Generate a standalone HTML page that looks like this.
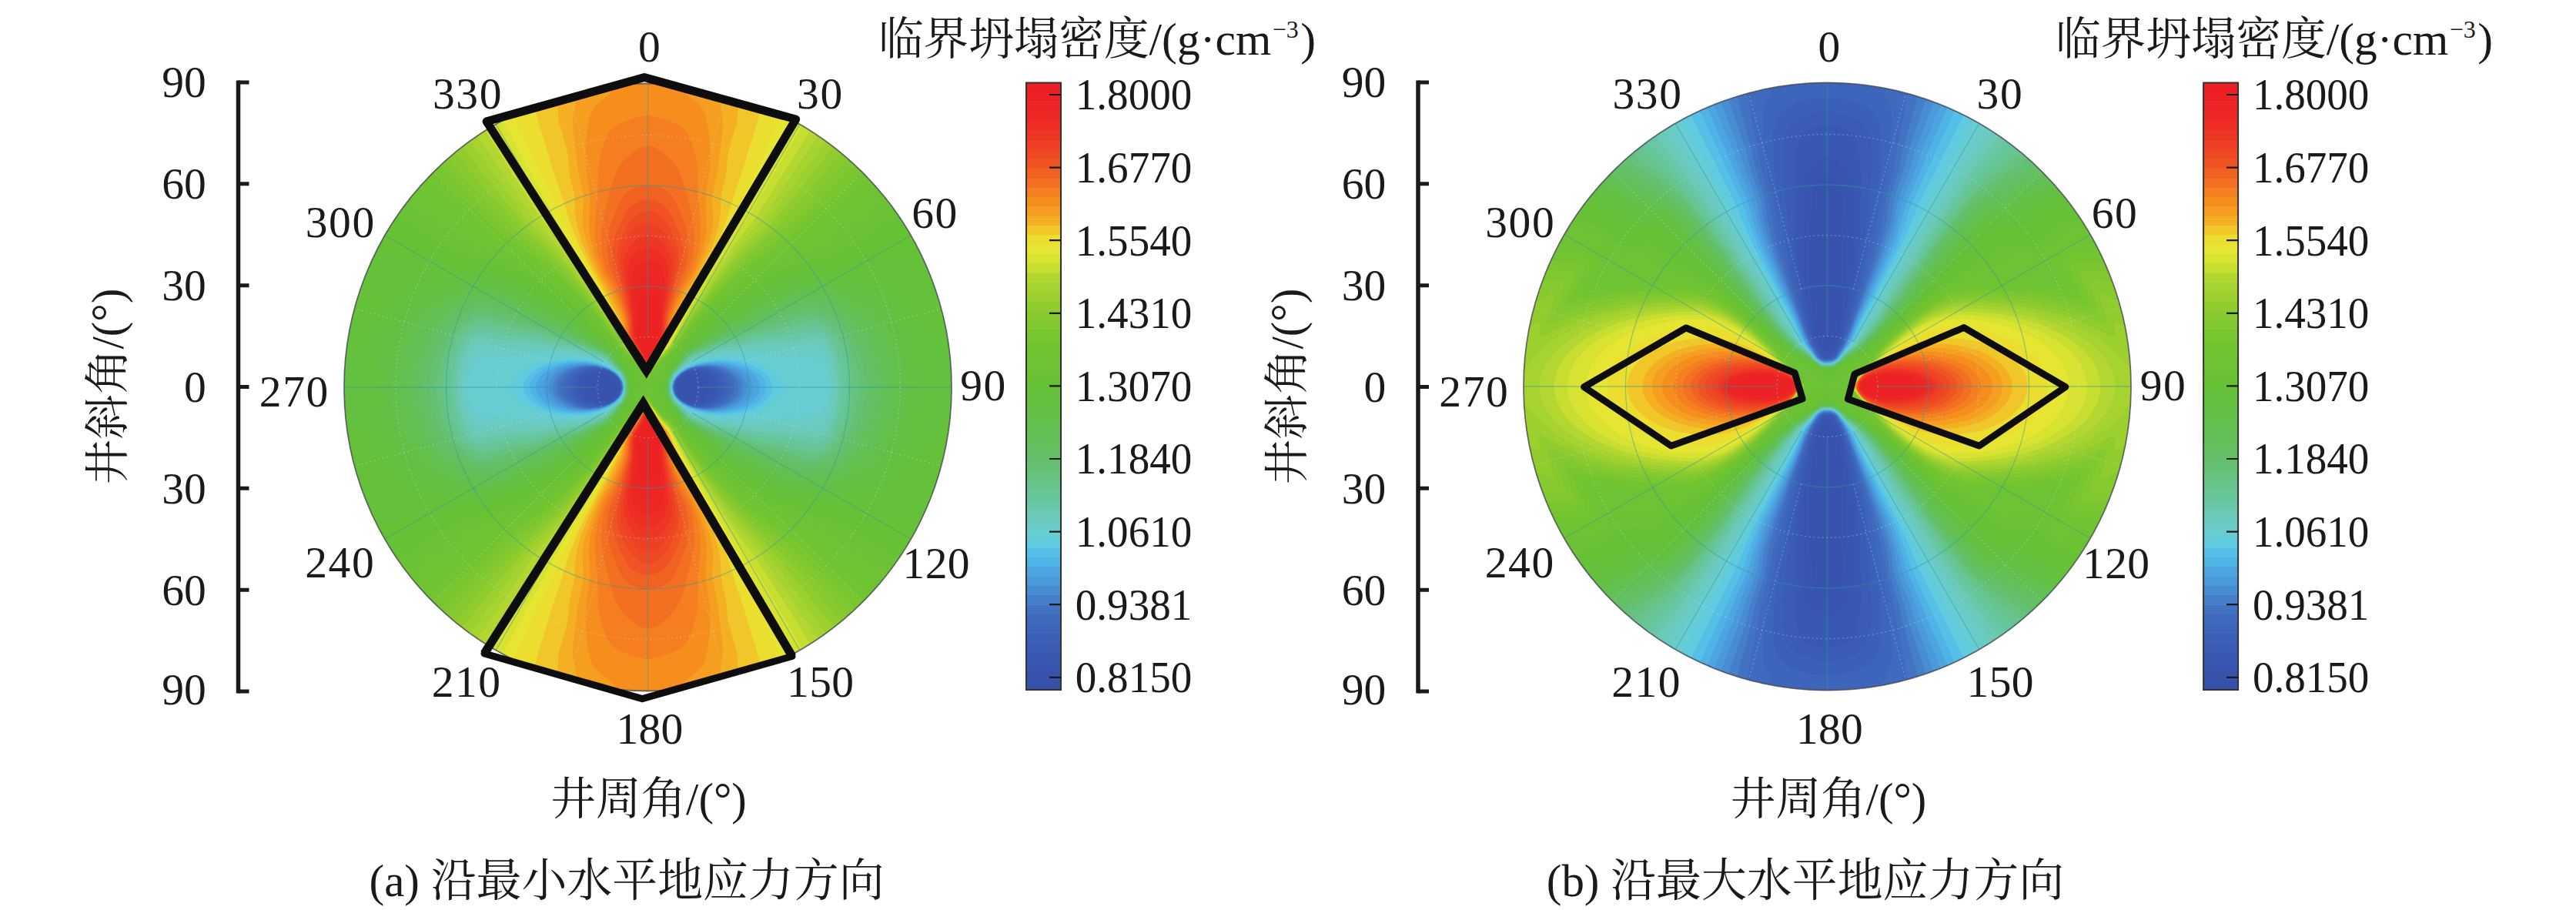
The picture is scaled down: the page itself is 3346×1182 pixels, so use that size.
<!DOCTYPE html>
<html lang="zh"><head><meta charset="utf-8"><title>figure</title>
<style>html,body{margin:0;padding:0;background:#fff;overflow:hidden}svg{display:block}</style></head>
<body>
<svg width="3346" height="1182" viewBox="0 0 3346 1182">
<defs><clipPath id="disc"><circle cx="841.5" cy="503" r="394.5"/></clipPath>
<g id="qa"><rect x="-4.5" y="-4" width="404" height="404" fill="#3753ac"/><path fill="#3855af" d="M-4.5-4l42.5 0-0.5 4 1 5 2 4 2 2.5 3.5 2.5 4.5 2 4 1 4 0.5 5-0.5 3-1 4-2 4-3 2-3 1.5-4 1-4-1-4 321.5 0 0 403-404 0 0-403z"/><path fill="#3958b2" d="M-4.5-4l41 0-0.5 4 0.5 5 2 4.5 3.5 4.5 4.5 3 4.5 2 5.5 1.5 6 0.5 5-0.5 5-1.5 4-2 4-3.5 3-3.5 2-5 1-4-0.5-5 313.5 0 0 403-404 0 0-403z"/><path fill="#3a5cb5" d="M-4.5-4l40 0-0.5 6 1.5 5 2 4 3.5 4 4.5 3 6 3 5 1.5 7 0.5 6-0.5 5.5-1.5 4.5-2 5-4 3.5-4 2-5 1-5-0.5-5 308 0 0 403-404 0 0-403z"/><path fill="#3b60b8" d="M-4.5-4l39.5 0-0.5 5 1 5 3 5.5 4 4.5 4.5 3 6 3 8 2 5.5 0.5 6-0.5 7.5-2 5.5-2.5 4.5-3.5 3-4 3-6 1-5-0.5-5 303 0 0 403-404 0 0-403z"/><path fill="#3d65bb" d="M-4.5-4l39 0-0.5 6 1.5 5 3 5.5 4 4 5 3.5 7 3 8 2 6 0.5 7-0.5 7-2 6-2.5 5-3.5 4.5-5 2.5-5 1.5-5-0.5-6 298 0 0 403-404 0 0-403z"/><path fill="#3f6abe" d="M-4.5-4l38.5 0 0 6 0.5 3 1 3 3 5 4 4 6.5 4 7 3 6.5 1.5 8 0.5 7-0.5 7.5-1.5 7.5-3 6-4 4.5-5 2.5-5 1.5-5-0.5-6 293 0 0 403-404 0 0-403z"/><path fill="#4273c3" d="M-4.5-4l38.5 0-0.5 3 0 3 1 5 3 5 5 5.5 6 3.5 7 3.5 8 1.5 9 1 8-0.5 8-2 7-2.5 7-4 5-5 3.5-5 1-3 0.5-3-0.5-6 287.5 0 0 403-404 0 0-403z"/><path fill="#457fca" d="M-4.5-4l38 0-0.5 6 2 6 3 5 5 5 7.5 4.5 7 3 8 1.5 9 0.5 10-0.5 8-1.5 8.5-3.5 6.5-4 5.5-5 3.5-5 1-3 0.5-3-0.5-6 282 0 0 403-404 0 0-403z"/><path fill="#488dd3" d="M-4.5-4l37.5 0 0 6 1.5 6 3 5 5 5 7 4.5 8 3 9 2 11 1 10-0.5 9-2 8-3 7-4 6-5 2.5-3 1.5-3 1-3 0.5-3 0-6 276.5 0 0 403-404 0 0-403z"/><path fill="#4a99d9" d="M-4.5-4l37.5 0-0.5 3 0 3 1.5 6 3 5 5.5 5.5 8 5 8 3 11 2.5 10 0.5 11-0.5 9.5-2 8.5-3 8-4 5.5-5 2.5-3 2-3 1.5-4 0.5-3 0.5-3-0.5-3 271 0 0 403-404 0 0-403z"/><path fill="#4ca5e0" d="M-4.5-4l37 0-0.5 3 0 3 1 4 1 3 2 3 2.5 3 6 5 8 4.5 8 3 10 2 12 1 11-0.5 11-2 10-3.5 9-4.5 6.5-5 2.5-3 2-3 1-3 1-3 0-3-0.5-4 263.5 0 0 403-404 0 0-403z"/><path fill="#4fb3e6" d="M-4.5-4l36.5 0-0.5 3 0.5 4 1 4 1.5 3 2 3 2.5 3 2.5 2.5 4 3 8 4 11 4 11 1.5 11 1 12-1 12-2 12-4 8.5-4 4.5-3 3-3 2.5-3 2-3 1.5-3 1-4 0-3-0.5-3 254.5 0 0 403-404 0 0-403z"/><path fill="#55c0e7" d="M-4.5-4l36.5 0-0.5 3 0 4 1 3 1.5 4 2 3 2.5 3 4 4 4 2.5 5 3 5 2 9 3 12 2 14 1 13-1 13-2.5 11-3.5 9.5-4.5 4-3 3.5-3 3-3 2-3 2-4 0.5-3 0.5-4-0.5-3 246.5 0 0 403-404 0 0-403z"/><path fill="#60cadf" d="M-4.5-4l36 0-0.5 4 0.5 4 1 4 2 4 2.5 3 3.5 4 8 5.5 10 5 11 3 12 2 13 1 14-1 13-2 13-4 9.5-4.5 4.5-3 3.5-3 3-3 3-4 2-4 1-3 0.5-4-0.5-4 238.5 0 0 403-404 0 0-403z"/><path fill="#68cdd1" d="M-4.5-4l35.5 0-0.5 4 0.5 4 1 4 2.5 4.5 2 3.5 3 3 9 6.5 9 5 12 4 17 3 11 0.5 16-0.5 14-2 13-4 10-4 7.5-4.5 8.5-6 3-3 5-7.5 2-2 3-1.5 8.5-2 1.5-1-1.5-1-10.5-3 222 0 0 403-404 0 0-403z"/><path fill="#6acbc4" d="M-4.5-4l35 0 0 6 0.5 4 2 5 3.5 6 5 4.5 10 8 5 3 5 2.5 19 4.5 12 2.5 46 1 19-0.5 27-3 27-0.5 6-0.5 4-1.5 3-1.5 3-3.5 2-3.5 2-5 1.5-6.5 1-7 0.5-7 0-7 165 0 0 403-404 0 0-403z"/><path fill="#6bc9b6" d="M-4.5-4l34.5 0 0 6 0.5 4 4 10 1.5 2 15.5 14 4 3 6 3 9 3 19 5 8 1 17 1.5 17 2 10 1 16 0.5 21-0.5 8 0.5 8 1 17 2.5 6 0.5 3 0 2-0.5 2.5-1.5 2.5-2.5 4-5.5 4-8.5 3-9 2-9.5 1-12 0-11 158 0 0 403-404 0 0-403z"/><path fill="#69c7a7" d="M-4.5-4l34 0 0 7 0.5 3 4 11 1.5 2 19 17.5 6.5 3.5 8.5 3 19 6 10 2 18 2 19 3.5 11 1.5 11 1 20 0.5 8 0.5 8 1.5 17 3.5 7 1 3 0 3-1 2.5-1 2.5-2 5-6 3-5 2.5-5 4-11 2.5-11.5 1.5-13.5 0.5-14 152 0 0 403-404 0 0-403z"/><path fill="#67c699" d="M-4.5-4l33.5 0 0.5 10 3.5 11 1.5 2 7.5 7 8.5 9 3 2.5 6 3.5 8 3 19 7 7 2 22 4 24 5 14 2.5 30 2.5 25 5 8 1 4 0 4-1.5 4-2 3-2 5-5.5 5.5-10 5-13 3.5-13 2-15 0.5-15 146.5 0 0 403-404 0 0-403z"/><path fill="#66c48c" d="M-4.5-4l33 0 0.5 11 2.5 6 1 4 1 2 8.5 8 7.5 8.5 3 2.5 6 4 7 3 28 10 22 5.5 26 7 12 2 27 3.5 25 6 9 1 4 0 5-1.5 5-2.5 4-2.5 4-3.5 3-3 3-4.5 3-5.5 6-13 2.5-8 2-8 1-7 1-9 0.5-16 141 0 0 403-404 0 0-403z"/><path fill="#65c37f" d="M-4.5-4l32.5 0 0.5 11 4.5 12 8 8 7.5 8.5 3 3 6 4 7 3.5 30 12 21 5.5 26 8 12 3 24 3.5 27 7.5 5 1 4 0.5 5-0.5 5-1.5 6-3 5-3 4.5-4 4-4 3-4 3.5-6 4.5-8 3-7 3.5-9 2-8 1.5-7 1.5-10 0.5-8 0-8 133.5 0 0 403-404 0 0-403z"/><path fill="#64c173" d="M-4.5-4l32 0 0 11 5 12 7.5 8 7.5 9 3 3 6 4.5 8 4 30 12.5 46 15.5 13 3.5 24 5 27 8.5 4 1 4 0 5-0.5 6-1.5 6-3 6-3.5 6-5 5.5-5 4-5 5-7 4-7 3.5-7 3.5-9 3-9 2-8 1.5-11 1-8 0-8 125 0 0 403-404 0 0-403z"/><path fill="#64c068" d="M-4.5-4l31.5 0 0 11 0.5 2 4 10 8 8 10 12 6 5 8 4.5 32 14 43 16 14 4.5 24 6.5 25 8.5 5 1.5 5 0 6-0.5 6-1.5 7-3 7-4 7-5 6.5-5.5 5.5-6 4.5-6 5-8 4.5-8 4-10 3.5-10 2.5-9 2-11 1-8 0-8 116 0 0 403-404 0 0-403z"/><path fill="#63c061" d="M-4.5-4l31 0 0 4 0 5 0 3 5 11.5 7 7.5 7 9 4 4.5 6 4.5 8 4.5 33 16 42 17.5 13 4.5 24 7 23 8.5 7 2 6 0.5 7-0.5 7-2 8-3.5 9-4.5 6-4 6-5 6-6 6-7 6-9 5-9 5-10 3.5-10 3-10 3-13 1-8 0-8 106.5 0 0 403-404 0 0-403z"/><path fill="#63c059" d="M-4.5-4l30.5 0 0 4-0.5 5 0.5 3 4 10 1.5 2 6.5 7 7.5 10 3 3.5 6 5 8 5 35 18 41 18.5 57 21 9 2 8 1 7-0.5 8-2 11-4 9-4.5 6-4 7-5.5 7-7.5 6-7 6.5-9 6-10 4.5-9 4-10 3-10 3.5-15 1.5-9 0-8 97 0 0 403-404 0 0-403z"/><path fill="#62c052" d="M-4.5-4l29.5 0 0.5 12 4 10 1.5 2 6 7 7.5 10.5 3 3.5 5 4.5 6 4 15.5 8.5 21.5 12.5 15 8 25 12 50 20 8 3 6 1.5 6 1 7 0.5 9-0.5 9-2 10-3 9-4 8-5 8-6 8.5-8 8-9 7-9 5.5-9 4.5-8 3.5-9 3.5-12 4.5-19 1.5-9 0-8 87.5 0 0 403-404 0 0-403z"/><path fill="#62c04b" d="M-4.5-4l29 0 0.5 12 1 3 3 7 2 3 6 7 6.5 9.5 3.5 4.5 4.5 4 6 4.5 16.5 9.5 17.5 11.5 10 6 21 11 16 8 47 20 8 3 6 1.5 7 1 7 0.5 10-0.5 11-2 8-2 8-3.5 12-7 11-7.5 8.5-7 8-8 7-9 6.5-10 4.5-8 3.5-8 3.5-12 6-25 1.5-9 0-8 77 0 0 403-404 0 0-403z"/><path fill="#63c045" d="M-4.5-4l28.5 0 0 9 0 3 1 3 3.5 7 1.5 3 6 7 7 11 3.5 4 5 4.5 5 4 15.5 9.5 21.5 15.5 11 7 39 21 41 18 8 3 7 1.5 9 1.5 9 0 11 0 8-1 8-2.5 9-3.5 19-8.5 8-4.5 9-7 8.5-8.5 7.5-9 9.5-14 5-8 3.5-8 4.5-15 5.5-23 2-11 0-9 64 0 0 403-404 0 0-403z"/><path fill="#64c13f" d="M-4.5-4l27.5 0 0 10 2 6 3.5 8 6.5 8 5.5 9 4.5 6 3.5 4 5 4 18 12 24 20 9 6 19.5 11 26.5 15.5 9 4 24 10 8 2.5 9 2 12 1 15 1 8-0.5 9-1.5 29.5-8 9.5-3.5 7-3.5 7-5.5 8-7 8-8.5 10.5-13 8.5-13 5-10 7.5-19 2.5-8 2-9 1.5-16 0-14 48.5 0 0 403-404 0 0-403z"/><path fill="#65c139" d="M-4.5-4l26.5 0 0 9 2.5 8 3 7 6 7.5 4.5 8.5 5.5 8 4 4.5 5 4 15 10.5 3.5 3 8.5 8 16 16.5 9 7 20 10.5 26 16 10 4.5 22 8 8 2.5 10 2 23 3 11 0.5 19-1.5 20 0.5 10-0.5 6-1 6-1 5-2 5-2.5 5.5-3.5 5.5-4.5 15.5-15.5 8.5-9 8-10.5 20-29.5 4-5 5-5.5 6-5 5-3 4-0.5 7 0.5 0 353.5-404 0 0-403z"/><path fill="#67c135" d="M-4.5-4l24.5 0-0.5 2 0 5 2 4.5 1.5 5.5 2.5 6 6 8.5 7.5 14.5 3 4 3.5 4 6 5.5 12 8.5 4.5 4 7 7 15.5 18.5 5 4.5 6 5.5 8 5.5 8 5 16 8.5 18 10.5 7 3 7 3 17 6 10 3 32 6 22.5 3 12 3 26.5 7.5 23 3 19 5 20 3 7 3 45 23 0 194.5-404 0 0-403z"/><path fill="#6ac234" d="M-4.5-4l18.5 0-2.5 2-0.5 1 0 2 1.5 2 6 4 1.5 2 1.5 8-1 3 0.5 1 1 2 6 7 7 11 6.5 8.5 9 10 15 13.5 19 21 7 7 10 8.5 15 11.5 7 4.5 14 7 15 8.5 13 6.5 14 5.5 13 4.5 41.5 11.5 19 8 11.5 5.5 8 4.5 20 13.5 107 73.5 0 125-404 0 0-403z"/><path fill="#6dc333" d="M-1 6l0.5-0.5 1 0 1 1 6 12.5 2 3 6 6 7 3.5 4 4 25 29.5 29 31 12 11.5 21 17 11 8 13 7.5 17 11 9 5 9 4 45 18.5 5.5 2.5 4.5 2.5 29 21.5 18 10.5 8 5.5 117 91.5 0 86.5-404 0 0-386 2-5 1.5-2z"/><path fill="#6fc431" d="M-0.5 9l1 0 1 1 5 10.5 2 2.5 6.5 7 8.5 6 7 7 27 32.5 18 20.5 14 14 21 18 14 10.5 36 24.5 10 5.5 36 18 10 6 5.5 4.5 25.5 23 6 4 13 7 7 5 126 109 0 54-404 0 0-383 2.5-5 1.5-2z"/><path fill="#72c530" d="M-0.5 11l1 0 1 1 5 10 6 7 4 4 9 7 6 6 5.5 7 18.5 24 11 13 15 16.5 12 11.5 28 25 27 20 15 10 38.5 23 7.5 5.5 29 27.5 6 4.5 13 8.5 6 5 136 127.5 0 24.5-404 0 0-381 2.5-5 1.5-2z"/><path fill="#79c630" d="M-0.5 13l1 0 1 1 4 8 8 9 4 4 9 7.5 6 6.5 21 28.5 10 12.5 15 17.5 13 13.5 24 23 14 12 23 17 25 17 18 13 7 6 28.5 28 17.5 14 5.5 5 141.5 143-400 0 0-379 2-4.5 2-2.5z"/><path fill="#80c82f" d="M-1 15l0.5-0.5 1 0 1 1 3.5 6.5 8.5 10 5 5.5 8 6.5 5.5 6 4 5 17.5 25.5 10 13 16 19.5 15 16 18 18 12 11 22 18 26 19 18.5 16 10.5 9.5 22 22.5 21 20 126.5 136-375.5 0 0-378 3.5-6z"/><path fill="#87ca2f" d="M-0.5 16l1 0 1 1 3.5 6 11.5 13.5 10 9 5 5.5 4.5 6 16.5 24.5 10 13.5 18 23 17 19.5 14 14.5 11 10.5 20 17 18.5 14.5 8 7 41.5 41 25 27 113.5 130-353.5 0 0-377 3-5 1-1z"/><path fill="#91cc2f" d="M-1 18l0.5-0.5 1 0 1 1 3 4.5 12 14.5 10 9.5 4.5 5 3.5 5 16 24.5 10 14 20 26.5 18 21.5 11 12.5 10 10 42 37 24 26 19 20 123.5 150-332.5 0 0-376 3.5-5z"/><path fill="#9cd02f" d="M-1 19l1.5-0.5 1 1 15 19 10 9.5 4 5 19 29.5 8 11.5 23 32 17 21.5 10 12 9 9.5 18 17.5 17.5 15.5 8 9 18.5 22.5 22 26.5 107 139-312 0 0-375.5 3.5-4.5z"/><path fill="#a7d330" d="M-1.5 21l1-1 1 0 1 1 6.5 7 8.5 11.5 9.5 9.5 4.5 5 18 29.5 9 13.5 27 38.5 20 26 14 16 13 13.5 14.5 14 8 9 37.5 51 97 134-293 0 0-374.5 3-3.5z"/><path fill="#b3d730" d="M-1.5 22l1-1 1 0 5 5 11 14.5 9 9 4 4.5 24 40 25 37.5 14 20 12 16.5 10 12.5 12 13.5 15 16 5.5 7 123 182-274.5 0 0-374 3-3z"/><path fill="#c7de30" d="M-1.5 23l1-1 1 0 5 4.5 11 15 9.5 9.5 3.5 5 21 36.5 28 44 17 25 16 23 10 13 14 17.5 5 6.5 112.5 177.5-257.5 0 0-373.5 3-2.5z"/><path fill="#d8e331" d="M-2 24l1.5-1 1 0 2 1.5 3 2.5 11 15.5 9 9.5 4 5 16 30 10 17.5 23 37.5 31 48.5 24 35.5 102 173-240 0 0-373 2.5-2z"/><path fill="#e6e531" d="M-0.5 24l2 0.5 4.5 3.5 9.5 14 10 11 3.5 5 15 30 10 18 13.5 23.5 24 40.5 18 31.5 16.5 28.5 14.5 27.5 18 32.5 13.5 26 45 83-221.5 0 0-372.5 4-2.5z"/><path fill="#ecde2e" d="M-1.5 25l1-0.5 2 0.5 4 3 10 15 9.5 11 3.5 5 13.5 29 9 18 9.5 17.5 26 45.5 7 13 24.5 51 12.5 28 18 34 3 7 5.5 15 2.5 6 38 76-202 0 0-372 3-2z"/><path fill="#f0c629" d="M-2 26l1.5-0.5 2 0 4 3 10 15 8.5 10.5 3 4 4.5 10 8 20 7.5 15 9 18 11.5 21 12.5 24 9 18 10.5 26 5.5 16 9.5 31 10 29 7.5 26 8 25 7 25 15 37-166.5 0 0-371.5 2.5-1.5z"/><path fill="#f4af23" d="M-1 26l2.5 0 2 1.5 2 2 10 15 8.5 10.5 2.5 4 4 10 6 18 5 11 11 23 14.5 27 14 30 5.5 13 4.5 17 2.5 11 1 8 0.5 18 1 8 5.5 23 2 22 1 7 2 8 8.5 29 1.5 8 0.5 15 1 7 8.5 27-131 0 0-370.5 2-2 1.5-0.5z"/><path fill="#f69e20" d="M-2 27l1.5-0.5 2 0.5 2 1 2 2 9 14 8.5 11 3 5 4 11 4 17 3.5 9 11.5 25 10.5 18 4.5 9 11.5 28 5 15 3 13 1.5 11 0 7-1.5 16 0 8 1.5 8 5.5 26 6.5 52 0.5 9-0.5 8-0.5 6-3 14-1 7 1 7 3.5 15-101.5 0 0-370 2.5-2z"/><path fill="#f68e1e" d="M-2.5 28l2-1 2 0.5 2 1 2 2 9 14.5 8.5 12 2.5 4 3.5 11 2.5 15 2 7 6 15 6 13.5 3.5 6.5 8.5 14 5 10 5 14 4 13 2.5 10 1.5 9 1 16-1.5 21 0 10 1 9 4 27 1 22-0.5 16-2.5 19-3 13-1.5 5-2 4-2 3-3 3.5-15.5 12.5-6.5 7-2 3-0.5 2 0 3 0 4-46.5 0 0-369.5 2-1.5z"/><path fill="#f47e20" d="M-1.5 28l2 0 1 0 2 1 2 2.5 8.5 13.5 8 12 2.5 5 2 5 1.5 6 2 17 5.5 16.5 8.5 20.5 12.5 21 5 13.5 3 10.5 2.5 12 1 9 0.5 10-0.5 15-3 32-0.5 29-0.5 10-1.5 9-2 8-3 9.5-3.5 8.5-3 6-3.5 4.5-4 4-5 3-8 3.5-15 5-8 2-7 1-5-0.5 0-322.5 3-2z"/><path fill="#f36f21" d="M-2 29l1.5-0.5 2 0 2 1.5 2 2 7.5 13 8 12 2.5 5 2 5 1 6 1 14 1 4 5 17 8 21 3 6.5 8 13.5 3.5 10 2 7 1 8 1.5 19 0 7-1 8-3.5 19-9 36-3.5 10-3.5 8-3.5 6-4 5.5-4 4.5-6 5-7 5.5-5 3-5 2-5 1-5-0.5 0-282 2.5-2z"/><path fill="#f16122" d="M-2.5 30l2-1 2 0.5 2 1 2 2.5 6.5 11 8 13 2.5 5 1.5 5 1 5 1 16 1 6 11 35 3.5 9 6 12 2 6 2 10 1 12-0.5 16-1 6-1.5 6-2.5 8-7 18-3.5 8-3 5-3 4.5-3 3-3 2.5-3 2-5 2-6 2-5 1-5 0.5-5-0.5 0-230.5 2-1.5z"/><path fill="#f05423" d="M-1 30l1.5 0 2 0.5 3 3 6.5 11.5 7.5 12 2.5 6 1.5 5 0.5 5 0.5 14 1 6 10 38.5 8.5 25.5 1.5 8 0.5 8 0 6-1 6-1.5 7-1.5 6-3 7-5 11-6.5 12.5-5 6-3 2.5-4 2.5-4 2-4 1.5-7 1-5-0.5 0-211 2-2 1.5-0.5z"/><path fill="#ef4924" d="M-1.5 31l2-0.5 1 0.5 2 1.5 2 2 5.5 10.5 7.5 12 3 7 1.5 9 0 13 0.5 6 9 38 6.5 25 1 7 0.5 6-0.5 9-2 8-7 17-5.5 10-5 6-8 6.5-6 3.5-3 1-3 0.5-5-0.5 0-195.5 3-2.5z"/><path fill="#ef3f24" d="M-1.5 32l1-0.5 2 0.5 2 1 2 2.5 5.5 10.5 6.5 11 3 7 1.5 8-0.5 13 0.5 7 12 56 1.5 9 0.5 7-0.5 7-2 7-8 16.5-4 6.5-4 4.5-6 4.5-6 3-5 1-5-1 0-179 3-2z"/><path fill="#ee3624" d="M-2 33l1.5-0.5 2 0.5 2 1 1.5 2 5 10 6.5 11 3 7 1 7 0 13 0.5 7 8.5 49 1.5 10 0.5 8-0.5 7-2 6-4.5 9-4.5 7-4.5 4.5-5 3.5-5 2-5 1-5-0.5 0-162.5 2.5-2z"/><path fill="#ee2e24" d="M-2 34l1.5-0.5 2 0.5 2 1 1 1.5 4.5 9.5 7.5 13 2 5.5 1 6.5-0.5 12 0.5 7 5 36 1.5 12 0.5 9 0 7-1.5 6-2 6-3.5 5.5-4 4-4 3-6 2.5-5 1-5-0.5 0-145 2.5-2.5z"/><path fill="#ed2724" d="M-1.5 35l1-0.5 2 0.5 2 1.5 1 1 3.5 8.5 7.5 13 1.5 5 1 6 0 20 3 26 0.5 13 0 8-1 7.5-1.5 6.5-2.5 5-3 3.5-4 2.5-5 2-4 0.5-5-0.5 0-126.5 1-1 2-1.5z"/><path fill="#ec2424" d="M-0.5 36l2 0.5 2 1.5 3.5 9 6.5 11.5 2 5.5 0.5 6 0 20 1 22 0 6-0.5 6-1 5-2 5-2 3-3 3-4 2.5-4 1-2 0-3-1 0-102.5 2-3 2-1z"/><path fill="#ec2124" d="M-1 38l1.5 0 1 0 1 1.5 3.5 10.5 6.5 11 1 3.5 0.5 4.5-1 17 0 17-1 8-1.5 4-2 2.5-4 2-4 0.5-5-0.5 0-74 1.5-5.5 2-2z"/></g>
<g id="qb"><rect x="-4.5" y="-4" width="404" height="404" fill="#3753ac"/><path fill="#3855af" d="M-4.5-4l404 0 0 403-404 0 0-127 4 0.5 3 0 4-1 3-2 3-2.5 2-2.5 1.5-3.5 1-4 1.5-9 2-21 3-25-0.5-33 0.5-20-0.5-14-2.5-26-5-33-3-14-3-7-3-4.5-2-2-3-0.5-4 0-2 0.5 0-52.5z"/><path fill="#3958b2" d="M-4.5-4l404 0 0 403-404 0 0-102 4 1 5-1 5-1.5 5-3 7-5 4-3.5 3-4 2-4 2-7 1-9 1.5-65-0.5-22-2-20-7-45-6-33-2-9.5-2-6-2-4.5-3-5.5-5.5-8.5-1.5-1-1-0.5-5 0-2 1 0-44.5z"/><path fill="#3a5cb5" d="M-4.5-4l404 0 0 403-404 0 0-60 5 0.5 6-0.5 5.5-1 5.5-1.5 6.5-2.5 4.5-2.5 3.5-2.5 2.5-2.5 2-3.5 1.5-4 2.5-10 3-21 1-14-0.5-48-1.5-32-3-27-5.5-37-3.5-18-7-33-3-11.5-3-9-5-10-6.5-9.5-2.5-1.5-6 0-2 0.5 0-42z"/><path fill="#3b60b8" d="M-4.5-4l404 0 0 403-404 0 0-42 6 0.5 6-1 6-1 8-2.5 9-3 6-2.5 5.5-3.5 4.5-3.5 3-3.5 2-3 2-4 1.5-5 2.5-14 1-17-0.5-14-9-88-4-26-7.5-39-4-18-8-31-4-13.5-3-8-7-12.5-4-5.5-2-1.5-2-0.5-8 0 0-40.5z"/><path fill="#3d65bb" d="M-4.5-4l404 0 0 403-404 0 0-24 9 0 10-0.5 11-2 11-3 7-2.5 7-4 6-4 4-4 3-4 2-4 2-5 1-5 2-12 0-18-0.5-19-2.5-19.5-8.5-48.5-5.5-36-5-26-6-27-5-19-11-37-4-12.5-3-6.5-8-14.5-3-4-3-1.5-2-0.5-8 0 0-39.5z"/><path fill="#3f6abe" d="M-4.5-4l404 0 0 403-326 0-1.5-9 0-5 1.5-4 5-10 3-7 1.5-7 1-8-0.5-15-3-36-1-10.5-1.5-9.5-9.5-44-8-45-7-29-5-20-5-17.5-17-52.5-3-8-3-7-10.5-17-2.5-2-3-1-2-0.5-7 0.5 0-39z"/><path fill="#4273c3" d="M-4.5-4l404 0 0 403-290.5 0-6-24-4-26-7.5-36-5-29-10-39-7-39-4-18-5-19-8-27-6-18.5-19-54.5-5-12-5-9-5.5-9-2-2-3-2-3.5-1-8 0 0-38z"/><path fill="#457fca" d="M-4.5-4l404 0 0 403-275 0-9-29-14.5-53-3-10-5-25-11-35-2-10-2-18-1.5-8-5-19-6-20-16-46.5-21.5-58.5-4.5-10-5-9-6-9.5-2-2-3-2-4-1-8 0 0-37.5z"/><path fill="#488dd3" d="M-4.5-4l404 0 0 403-262.5 0-29.5-87-8.5-32-11.5-34-2-9-3-22-7-24.5-7-20.5-15.5-41-16.5-42-8.5-23-3-6-3-6-8.5-13-3-3.5-3-1.5-4-1.5-8 0.5 0-37z"/><path fill="#4a99d9" d="M-4.5-4l404 0 0 403-250.5 0-34-91-9.5-30-12.5-33-2-8-3-16-1.5-8-4.5-16-4.5-13-18.5-47-21.5-51-8.5-22-2.5-6-3.5-6-9.5-14-1.5-2-3-2-4.5-2-3 0-6 0 0-36z"/><path fill="#4ca5e0" d="M-4.5-4l404 0 0 403-239 0-38-93-10.5-30-13.5-33-2.5-8-5.5-23-5.5-19-3.5-10-42-96-9.5-24-5-9-10.5-16-2-2-3-2.5-5-2-3 0-6 0 0-35.5z"/><path fill="#4fb3e6" d="M-4.5-4l404 0 0 403-227.5 0-41.5-95.5-12.5-30.5-14.5-33-2.5-8-6-22-6-19-3.5-9-44-94.5-11-26.5-4.5-8-11-15-2.5-3-3.5-2-4.5-2-3-0.5-6 0.5 0-35z"/><path fill="#55c0e7" d="M-4.5-4l404 0 0 403-215 0-74.5-161-3-8-6-19-5.5-15-5.5-15-46.5-93.5-12-27.5-4.5-7-12-16-2-2-3.5-2.5-5-2-3-0.5-6 0.5 0-34.5z"/><path fill="#60cadf" d="M-4.5-4l404 0 0 403-199 0-83-165-12.5-31-11-24-48.5-92-13-28-3.5-5-13.5-17-3-3-4-2.5-4-1.5-3-0.5-6 0.5 0-34z"/><path fill="#68cdd1" d="M-4.5-4l404 0 0 403-180.5 0-93-170-27-51-51.5-93-9.5-19-4.5-8-2.5-4-8.5-9-7-9-2.5-2-4.5-3-4-1.5-6-0.5-3 0.5 0-33.5z"/><path fill="#6acbc4" d="M-4.5-4l404 0 0 403-162 0-120-200.5-82.5-141.5-3.5-4-9-9-6.5-8-3.5-3-4-2.5-4-1.5-9 0 0-33z"/><path fill="#6bc9b6" d="M-4.5-4l404 0 0 403-143.5 0-44.5-69-22-32-31.5-47-37.5-59.5-13-22.5-22.5-35-12.5-22-12-20-9-14-8.5-12-8.5-12-10-9-10-11-5-3.5-4-1.5-3-0.5-7 0 0-32.5z"/><path fill="#69c7a7" d="M-4.5-4l404 0 0 403-125 0-52.5-76-27.5-34.5-30-41-38.5-57.5-14.5-25.5-21.5-31.5-20.5-34-10-15-7-9.5-16-20.5-12-10-9.5-10-5.5-4-4-1.5-3-0.5-7 0 0-32z"/><path fill="#67c699" d="M-4.5-4l404 0 0 403-106.5 0-61.5-84-5.5-6-15.5-16-12-13.5-18-21.5-10-13-40.5-58-15.5-26-22-31-13-21-12-18-13-18-17.5-20-11.5-9-10-10.5-6-4-3.5-1.5-3.5-0.5-7 0 0-31.5z"/><path fill="#66c48c" d="M-4.5-4l404 0 0 403-87 0-71.5-91-6-6-16.5-14-17-16-16-17-10-12-42-58-17-27-21-29-13-20-13-19-8-11-6.5-8-17.5-19-12-9-10.5-10-5.5-4-3-1-3-1-8 0.5 0-31.5z"/><path fill="#65c37f" d="M-4.5-4l404 0 0 403-68.5 0-81.5-98-7-6-29-21.5-8-6.5-15-14-11-12-43.5-58-16.5-25.5-21-29.5-16.5-24-15.5-21-11.5-14-17-18-11.5-8-9.5-9-6.5-5-3-1.5-3-0.5-9 0 0-31z"/><path fill="#64c173" d="M-4.5-4l404 0 0 403-50.5 0-91.5-104-4-3.5-5-4-39-25-11-9-10-9-10-11.5-40-52-17.5-26-34.5-48-16-22-11.5-14-20.5-21-12-8-9-8.5-7-5-3-1.5-3-0.5-9 0 0-30.5z"/><path fill="#64c068" d="M-4.5-4l404 0 0 403-33.5 0-101.5-110.5-4-3-5.5-3.5-43.5-25.5-14-10-9-8-8-9-40-51-17.5-25.5-31.5-43-18.5-24-13.5-16-20-20-4-3-9-5.5-9-8.5-7-5-3-1.5-3-0.5-9 0 0-30z"/><path fill="#63c061" d="M-4.5-4l404 0 0 403-16.5 0-106.5-111-7-6.5-7-4.5-16-8-32-17.5-15-9.5-5-4-5-4.5-6-6.5-40-49.5-5-6.5-14-21-26.5-35-22-28-15.5-18-20.5-20-3.5-2.5-10-6-8.5-7.5-7.5-5.5-2-1-4-1-9 0 0-29.5z"/><path fill="#63c059" d="M-4.5-4l404 0 0 403-117-117-6-5.5-3.5-2.5-4.5-2.5-19-8.5-27-14-14-7.5-10-6.5-7.5-6-5.5-6-41-49.5-19-26.5-26-34-23-28-15.5-17-20.5-19.5-4-3-10-6-8-6.5-8-6-2-1-3-0.5-10-0.5 0-29z"/><path fill="#62c052" d="M-4.5-4l404 0 0 387.5-111-106.5-7-6-4-3-6-3.5-18-7.5-45-21.5-8-5-6-4.5-7-7.5-39.5-46.5-30-40-13-16-27.5-32-15.5-17-21.5-20-4-2.5-10-5.5-8-7-8-5.5-2-1-4-1-9 0 0-28.5z"/><path fill="#62c04b" d="M-4.5-4l404 0 0 374.5-107-99.5-7-6-6-4-8-4-33-15-29-11.5-7-4-5.5-4.5-24.5-27.5-18-21-44.5-55.5-33.5-37-14-15-21-19-4-3-11-6-7.5-6-8.5-6-2-1-3-0.5-10-0.5 0-28z"/><path fill="#63c045" d="M-4.5-4l404 0 0 361-103-92-7.5-6-9.5-5.5-33-16.5-13-5-15-4-6-2-6-3-6-4.5-6-6-24-26.5-37-43.5-20-24.5-37.5-40-12.5-13-22-19.5-5-3-10-5-7-6-9-6-2-1-4-1-9 0 0-27.5z"/><path fill="#64c13f" d="M-4.5-4l404 0 0 346-97-83-8-6-7-4-16-8-18-10-9-4-9-3-15-2.5-6-1.5-6-2.5-5-3.5-26-27-18.5-22-24.5-27-17.5-21-52.5-53-23-19.5-5-3.5-10-4.5-7-5.5-9-6.5-2-1-4-0.5-9 0 0-27z"/><path fill="#65c139" d="M-4.5-4l404 0 0 325.5-88.5-71.5-7.5-5.5-6-3-20-8-22-13-8-4-4-1-5-1-15-1-6-0.5-6-2-4-2.5-23.5-23.5-17.5-21-27-26.5-18-20.5-56.5-55-17.5-14.5-7-5-5-3-9-4-16-11.5-3-1.5-4-0.5-8 0 0-26z"/><path fill="#67c135" d="M-4.5-4l404 0 0 298-78.5-58-6.5-4-6-2.5-16-4-6-2.5-6.5-4-18.5-13-6-3-6-1-15 1-8 0-6-1-5-2.5-5-4.5-40.5-39-29.5-25-37-34.5-29-29-14-12-18-14-7-4-9-3.5-15-10.5-9-4.5-5 0-2 1 0-24z"/><path fill="#6ac234" d="M-4.5-4l404 0 0 270.5-72-48-7-3-19-4-4-1.5-4-2-7-6-12-13.5-3-2.5-2-1-5-1.5-7-0.5-6 1-12 2.5-5 1-5-1-4-2-27-20.5-25.5-17-20.5-12.5-16-11.5-16-14-15-13.5-35-35-11-9-14-11.5-5-3-4-2-4-1.5-6-1.5-5-3.5-4-2.5-4-3.5-5-2.5-1-1-4-6-2-1.5-1-0.5-2 0.5-1 0.5-2 2.5 0-18.5z"/><path fill="#6dc333" d="M10.5-3l1-1 388 0 0 243.5-57.5-34.5-5.5-3-3-1-4-0.5-18-1.5-5-1.5-4-2-4-2.5-2.5-3-3-4-7.5-12.5-4-4.5-3-2-3-0.5-4 0-15 1.5-8 0.5-6.5-0.5-5-1-10.5-4-23-11.5-24-8.5-10-4-10.5-5-8.5-5-14-9.5-16.5-13.5-15.5-14.5-31-31.5-16-15.5-8-7-22-18.5-7-8-12.5-10-0.5-1 0.5-1 2.5-2z"/><path fill="#6fc431" d="M29.5-4l370 0 0 222.5-55-30-4-1-4-1-15-0.5-6-0.5-5-1.5-4-3-2-2-3-4-5.5-9-1-3 0-2 1-3 6.5-13 2.5-7 0.5-3-0.5-1-1.5-1-5 0-31 2.5-34 1.5-21 0.5-20-0.5-12-1.5-12-3.5-12-5-12-7-15-10-8-6.5-11-9.5-18-17-19-20-12.5-14-33-41-1-2 0-1 2.5-3z"/><path fill="#72c530" d="M29.5-3l1-1 369 0 0 205.5-49-24.5-4-1.5-4-0.5-15-0.5-6-1-6-2-4.5-3.5-3.5-3.5-2-2.5-0.5-2 0-2 1-3 8-17 3.5-9 0.5-4-0.5-1-2-1-5 0-31 3.5-30 2.5-31 1.5-26 0-13-2-12-3-11-4-12-6-8-5-8-5.5-14-10.5-16-14.5-16-16-20-22-33.5-40-1-2 0-1 1.5-2z"/><path fill="#79c630" d="M31.5-4l368 0 0 188-43-19.5-7-1.5-15 0-7-0.5-6-2-4-2.5-1-1-0.5-2 0-3 10-23 3-10 0.5-3-0.5-1-1.5-1-5 0-34 5-28 3.5-27 2-37 0.5-14-0.5-11-2.5-12-3.5-13-6-8-4-8-5-14-10.5-17-14.5-16-15.5-21.5-23-32.5-38-0.5-2 0-1 2.5-3z"/><path fill="#80c82f" d="M31-3l1-1 367.5 0 0 170.5-32-13.5-6-2-7-0.5-13 1-6 0-4-0.5-2-1-1-1-1-2 1-4 8-21 4-12 0-2 0-2-1-1-1-0.5-5 0.5-27 5.5-29 4.5-28 3-34 2-25 0.5-12-1-8-1.5-7-1.5-7-2.5-8-3.5-13-7-15-10-15-11.5-16-15-10-9.5-13.5-14.5-20.5-23-15-18-1-2 0-1 1.5-2z"/><path fill="#87ca2f" d="M32-3l0.5-1 367 0 0 150.5-25-9-6-2-6 0.5-17 3.5-3 0-1-0.5-1-1-0.5-2 1-3 7-22 3.5-11 0-4-1-1.5-1-0.5-5 0.5-26 7-29 6-23 4-28 3-33 2-23-0.5-7-0.5-8-1.5-8-2-7-2.5-14-7-14-8.5-16-12-15-13-11-10.5-11-11-30.5-33.5-10.5-13-0.5-1 0.5-1 1.5-2z"/><path fill="#91cc2f" d="M32.5-3l1-1 366 0 0 121.5-18-5.5-5-0.5-5 1.5-12 7-3 1-1-1-0.5-2 0.5-3 5.5-21 1.5-7 0-4-1-1.5-1 0-4 0.5-16 6-15 5-20 5.5-23 5-26 4.5-30 3-16 1-22 0.5-9 0-7-1-8-1.5-8-2-14-6-15-8-16-11.5-16-13-11-10.5-12-12-31-33-10.5-13-0.5-1 0.5-1 1.5-2z"/><path fill="#9cd02f" d="M33-3l1-1 365.5 0 0 85-10-2-4 0-3 1-6 3.5-2 0.5-1-1-0.5-2 1-10 0-4-1-2-1.5-1-4 1.5-13.5 7.5-10 5-19.5 8-25 8-25 6-28 4.5-18 2.5-13 1-19 1-15 0-9-1-9-1.5-7-1.5-9-3.5-7-3-8-4-15-9.5-17-13-11-10-11-10.5-36.5-37.5-10.5-13 0-1 0-1 1.5-2z"/><path fill="#a7d330" d="M34.5-4l365 0 0 27.5-5 0-3 2-3 2.5-11.5 13-8 8-8 7-8 6-11.5 7-9.5 5-13 6-12.5 5-16 5-14.5 4-15.5 3.5-16 3-16 2-23 2-18 0.5-14 0-8-1-8-2-9-3-8-3-9-4.5-8-4.5-9-6-9-7-11-9-14-13-38-38-10.5-13 0-1 0-1 2.5-3z"/><path fill="#b3d730" d="M34-3l1-1 339 0 0 6-0.5 5-0.5 4-3 10-5.5 10-7 10-9 9-9.5 8-14 9-11 6-13.5 6-16 6-17 5-17 4-16 3-17 2.5-24 1.5-16 0.5-8-0.5-8-1-8-2-9-3-8-3.5-9-4.5-8-5-9-6-11-8.5-13-11.5-12-11-18-18-10-9-4.5-5-9.5-12 0-1 0-1 1.5-2z"/><path fill="#c7de30" d="M35.5-4l319.5 0 0 5-1 9-3 10-4 9-6 9-8 9-9.5 8-10 7.5-13 7.5-15 7-13 5-13 4-16 4-17 3.5-18 2-16 1.5-20 0.5-8-1-8-1-8-2.5-8-2.5-10-4.5-7-4-8-5-9-6-10-8-11-9.5-28.5-26.5-8.5-7.5-5-5-5.5-6.5-5-7 0-1 0-1 2.5-3z"/><path fill="#d8e331" d="M35-3l1-1 301.5 0 0 5-1 9-2 8-4 9-6 9-6.5 8-8.5 7.5-10 7.5-11.5 7-10 5-14.5 6-14.5 5-15.5 4-15.5 3-15.5 2-13 1.5-19 0.5-7-0.5-8-1-8-2-7.5-2.5-7.5-3-8-4-8-5-9-6-17-13-31-28-12-9.5-5-5.5-4-5-4.5-7-0.5-1 0.5-1 1-2z"/><path fill="#e6e531" d="M36-4l277.5 0 0 6-1 9-2.5 8-4 9-5.5 8-6 7-8.5 8-9.5 7-9 5.5-8.5 4.5-14 6-12 4-13.5 3.5-12.5 2.5-14.5 2-14 1-13 0-7 0-8-1.5-7-1.5-8-3-7-3-8-4-16-10-13-10-27.5-23-16.5-13-5-5-4-5-4-7 0-2 1.5-3z"/><path fill="#ecde2e" d="M36-3l0.5-1 249.5 0 0.5 5-1 7-2 8-3.5 8-4 7-4.5 5-9 9-6.5 5-7.5 5-9.5 5-10.5 4.5-10 3.5-10 3-11 2-13 2-12 1-12 0.5-7-0.5-8-1-8-2-7-2-14-6-8-4-8-5-15-10.5-37-27-6-6-4.5-5.5-2.5-5-1-2 1.5-3z"/><path fill="#f0c629" d="M36.5-3l0.5-1 223 0 0 5-0.5 6-2 7-2.5 6-4 6-4.5 5-6.5 6-5.5 4.5-7.5 4.5-8.5 4.5-8 3-9 3.5-9 2-11 2-11 1.5-18 0.5-8-0.5-7-0.5-8-2-9-2-17-6.5-10-5-8-4-23-14.5-7-4.5-7-5-5.5-5.5-5-7-2.5-4-0.5-2 1.5-3z"/><path fill="#f4af23" d="M37-4l202.5 0 0.5 5-0.5 5-2 6-2 5-3.5 5-4 5-5.5 5-5.5 4-6.5 4-7 3.5-8 3.5-8 2.5-9 2-9 2-9 1-8 0.5-10 0-8-0.5-9-1-9-2-10-3-9-3-9-4-19-10-14-8-7-5.5-5-5-4.5-6-3.5-6 0-2 1.5-3z"/><path fill="#f69e20" d="M37.5-4l190 0 0 5-0.5 5-1.5 5-2 4-3 5-4 4-4 4-5.5 4-6.5 4-7 3.5-7 2.5-8 2.5-8 2-17 3-18 0.5-8-0.5-9-1-8-2-9-2-9-3-9-4-19-9-9-5.5-6-4.5-6-5.5-4.5-6-2.5-5-0.5-2 0-1 1.5-3z"/><path fill="#f68e1e" d="M37.5-3l0.5-1 176.5 0 0.5 4-0.5 4-1.5 5-2.5 5-2.5 4-4 4-4.5 4-10 6.5-6 2.5-7 3-15 4-16 2.5-8 1-9 0-8-0.5-8-1-8-1.5-8-2-8-2.5-8-3-17-8-7-4-7-4.5-6-6-4-5.5-2-4-1-3 1-3z"/><path fill="#f47e20" d="M38-4l161 0 0.5 5-0.5 4-1.5 4-2 4-3 4-4 4-4 3-10 6-13 5-14 3.5-15 2-16 0.5-15-1.5-15-3.5-8-2.5-8-3.5-13.5-7-8.5-6-5-5-4-5-2.5-6 0-2 1-3z"/><path fill="#f36f21" d="M38-3l0.5-1 149 0 0 4 0 4-1.5 4-2 4-2.5 3-3 3-4 3.5-9.5 5.5-11.5 4.5-13 3.5-14 2-14 0.5-13-1-14.5-2.5-6.5-2-8.5-3-12-6-8.5-5.5-6-5.5-3.5-5-1.5-3-1-4 0.5-3z"/><path fill="#f16122" d="M39-4l138 0 0.5 5-1 4-1 3-4 6-3 3-4 3-9 5.5-12 4-12 3-14 1.5-14 0.5-13-1.5-11-2-12-4-12-6-6-4-2-1.5-3.5-3.5-3.5-5-1.5-3-0.5-3 0-3 0.5-2z"/><path fill="#f05423" d="M39.5-4l128.5 0 0.5 5-0.5 3-1 3-1.5 3-2.5 3-6.5 5.5-4.5 2.5-4.5 2-11 4-13 3-12 1-14 0.5-12-1.5-11-2-11.5-4-9.5-5-4-2.5-4-3.5-5-6.5-1-2.5-0.5-3 0.5-5z"/><path fill="#ef4924" d="M40-4l119 0 0.5 5-0.5 3-1.5 3-3.5 5-6.5 5-8 4-11 3.5-11 2.5-12 1-14 0.5-12-1.5-9-2-10-3.5-9-4.5-6-5-2-2-2.5-4-1.5-3 0-2 0.5-5z"/><path fill="#ef3f24" d="M40.5-3l0-1 109 0 0.5 4-0.5 3-0.5 2-2 3-1.5 2-6 5-7 3.5-10 3.5-10 2-10 1-13 0.5-12-1-9-2-9-3-8-4-6-4-4-5.5-1.5-4 0.5-5z"/><path fill="#ee3624" d="M41-4l101 0 1 4-0.5 2-1 3-3 4-5 4-7 3.5-9 3-11 2-13 1.5-8 0-11-1-9-2-8-2.5-7-3.5-6-5-3-4-1-4 0-3 0.5-2z"/><path fill="#ee2e24" d="M42-4l95 0 1 4-1 4-1 2-2.5 2.5-5 3.5-7 3-8 2.5-10 2-11 1-11 0-9-0.5-8-1.5-7-2.5-7-3.5-5-3.5-3-4-1.5-4 0.5-3 0.5-2z"/><path fill="#ed2724" d="M42.5-3l0.5-1 89 0 1 2 0.5 2-0.5 2-1 2-3.5 4-5 3-7 3-10 2.5-11 1.5-18 0.5-8-1-7.5-1.5-6-2-5.5-2.5-5-3.5-2-3-1-2-0.5-2 0.5-4z"/><path fill="#ec2424" d="M43.5-3l0.5-1 82 0 1.5 2 0.5 2-1 3-3 3-5 3-7.5 3-8.5 2-8.5 1.5-11 0.5-7.5 0-7.5-0.5-7-1.5-6.5-2-4.5-2-4-3-2-2-1-2-0.5-3 0.5-3z"/><path fill="#ec2124" d="M46.5-4l68.5 0 1 2 0.5 2-1 3-2 2-4 2.5-7 2-7 1.5-9 1-16 0-7-0.5-6-1.5-4-1.5-5-2.5-3-3-0.5-2 0-3 1.5-2z"/></g>
</defs>
<rect width="3346" height="1182" fill="#fff"/>
<g transform="translate(0,0)">
<g clip-path="url(#disc)" transform="translate(0,0)">
<use href="#qa" transform="translate(841.5,503) scale(1,-1)"/>
<use href="#qa" transform="translate(841.5,503) scale(-1,-1)"/>
<use href="#qa" transform="translate(841.5,503) scale(1,1)"/>
<use href="#qa" transform="translate(841.5,503) scale(-1,1)"/>
<g fill="none" stroke="#2f9a98" stroke-opacity=".45" stroke-width="1.3"><circle cx="841.5" cy="503" r="131"/><circle cx="841.5" cy="503" r="262"/><path d="M841.5 437.5 L841.5 108.5"/><path d="M874.2 446.3 L1038.8 161.4"/><path d="M898.2 470.2 L1183.1 305.7"/><path d="M907.0 503.0 L1236.0 503.0"/><path d="M898.2 535.8 L1183.1 700.2"/><path d="M874.2 559.7 L1038.8 844.6"/><path d="M841.5 568.5 L841.5 897.5"/><path d="M808.8 559.7 L644.2 844.6"/><path d="M784.8 535.8 L499.9 700.3"/><path d="M776.0 503.0 L447.0 503.0"/><path d="M784.8 470.2 L499.9 305.7"/><path d="M808.8 446.3 L644.2 161.4"/></g>
<g fill="none" stroke="#c0e4ea" stroke-opacity=".36" stroke-width="1.3" stroke-dasharray="2 3.6"><circle cx="841.5" cy="503" r="65.5"/><circle cx="841.5" cy="503" r="196.5"/><circle cx="841.5" cy="503" r="327.5"/><path d="M875.4 376.5 L943.6 121.9"/><path d="M934.1 410.4 L1120.5 224.0"/><path d="M968.0 469.1 L1222.6 400.9"/><path d="M968.0 536.9 L1222.6 605.1"/><path d="M934.1 595.6 L1120.5 782.0"/><path d="M875.4 629.5 L943.6 884.1"/><path d="M807.6 629.5 L739.4 884.1"/><path d="M748.9 595.6 L562.5 782.0"/><path d="M715.0 536.9 L460.4 605.1"/><path d="M715.0 469.1 L460.4 400.9"/><path d="M748.9 410.4 L562.5 224.0"/><path d="M807.6 376.5 L739.4 121.9"/></g>
</g>
<circle cx="841.5" cy="503" r="394.5" fill="none" stroke="#50505a" stroke-opacity=".8" stroke-width="1.8"/>
<path d="M632 157.8L837 100.5L1033.7 154.9V92H632Z" fill="#fff"/>
<path d="M629 848.9L834.2 907.7L1029 852.5V918H629Z" fill="#fff"/>
<path d="M839.6 481.5L632 157.8L837 100.5L1033.7 154.9Z" fill="none" stroke="#0d0d0d" stroke-width="10.8" stroke-linejoin="round"/>
<path d="M813.7 441.1L839.6 481.5L864.3 439.9" fill="none" stroke="#0d0d0d" stroke-width="10.8" stroke-linejoin="miter"/>
<path d="M835.5 524L629 848.9L834.2 907.7L1029 852.5Z" fill="none" stroke="#0d0d0d" stroke-width="9" stroke-linejoin="round"/>
<path d="M629 848.9L835.5 524L1029 852.5" fill="none" stroke="#0d0d0d" stroke-width="11.2" stroke-linejoin="round"/>
<path d="M809.7 564.6L835.5 524L860 565.6" fill="none" stroke="#0d0d0d" stroke-width="11.2" stroke-linejoin="miter"/>
<path d="M309.5 104.5V900.5" stroke="#1a1a1a" stroke-width="5.5" fill="none"/>
<path d="M309.5 107.0H323.5M309.5 238.8H323.5M309.5 370.7H323.5M309.5 502.5H323.5M309.5 634.3H323.5M309.5 766.2H323.5M309.5 898.0H323.5" stroke="#1a1a1a" stroke-width="5" fill="none"/>
<g font-family="'Liberation Serif','Noto Serif CJK SC',serif" font-size="57.5" fill="#1a1a1a">
<text x="267.8" y="126.3" text-anchor="end">90</text>
<text x="267.8" y="258.1" text-anchor="end">60</text>
<text x="267.8" y="390.0" text-anchor="end">30</text>
<text x="267.8" y="521.8" text-anchor="end">0</text>
<text x="267.8" y="653.6" text-anchor="end">30</text>
<text x="267.8" y="785.5" text-anchor="end">60</text>
<text x="267.8" y="915.3" text-anchor="end">90</text>
<text x="844.1" y="80.3" text-anchor="middle" letter-spacing="1.6">0</text>
<text x="607.5" y="141.2" text-anchor="middle" letter-spacing="1.6">330</text>
<text x="1065.4" y="141.2" text-anchor="middle" letter-spacing="1.6">30</text>
<text x="442.3" y="308.0" text-anchor="middle" letter-spacing="1.6">300</text>
<text x="1214.6" y="296.2" text-anchor="middle" letter-spacing="1.6">60</text>
<text x="382.4" y="527.8" text-anchor="middle" letter-spacing="1.6">270</text>
<text x="1277.5" y="519.5" text-anchor="middle" letter-spacing="1.6">90</text>
<text x="441.8" y="750.0" text-anchor="middle" letter-spacing="1.6">240</text>
<text x="1216.2" y="750.6" text-anchor="middle" letter-spacing="0.3">120</text>
<text x="606.2" y="905.2" text-anchor="middle" letter-spacing="1.6">210</text>
<text x="1065.7" y="905.2" text-anchor="middle" letter-spacing="0.3">150</text>
<text x="844.1" y="965.6" text-anchor="middle" letter-spacing="0.3">180</text>
</g>
<g font-family="'Liberation Serif','Noto Serif CJK SC',serif" font-size="58.6" fill="#1a1a1a">
<text transform="translate(159.5,502) rotate(-90)" text-anchor="middle">井斜角/(°)</text>
<text x="842.6" y="1057.5" text-anchor="middle">井周角/(°)</text>
<text x="1148.6" y="1163.8" text-anchor="end" font-size="58.9">(a) 沿最小水平地应力方向</text>
<text x="1141" y="70.5">临界坍塌密度<tspan font-size="59.5">/(g·cm</tspan><tspan font-size="32" dy="-22" dx="1.5">−3</tspan><tspan font-size="59.5" dy="22" dx="2.5">)</tspan></text>
</g>
<g transform="translate(0,0)">
<rect x="1333" y="883.68" width="45" height="12.92" fill="#3651aa"/>
<rect x="1333" y="871.36" width="45" height="12.92" fill="#3753ac"/>
<rect x="1333" y="859.04" width="45" height="12.92" fill="#3855af"/>
<rect x="1333" y="846.72" width="45" height="12.92" fill="#3958b2"/>
<rect x="1333" y="834.40" width="45" height="12.92" fill="#3a5cb5"/>
<rect x="1333" y="822.08" width="45" height="12.92" fill="#3b60b8"/>
<rect x="1333" y="809.76" width="45" height="12.92" fill="#3d65bb"/>
<rect x="1333" y="797.44" width="45" height="12.92" fill="#3f6abe"/>
<rect x="1333" y="785.12" width="45" height="12.92" fill="#4273c3"/>
<rect x="1333" y="772.80" width="45" height="12.92" fill="#457fca"/>
<rect x="1333" y="760.48" width="45" height="12.92" fill="#488dd3"/>
<rect x="1333" y="748.16" width="45" height="12.92" fill="#4a99d9"/>
<rect x="1333" y="735.84" width="45" height="12.92" fill="#4ca5e0"/>
<rect x="1333" y="723.52" width="45" height="12.92" fill="#4fb3e6"/>
<rect x="1333" y="711.20" width="45" height="12.92" fill="#55c0e7"/>
<rect x="1333" y="698.88" width="45" height="12.92" fill="#60cadf"/>
<rect x="1333" y="686.55" width="45" height="12.92" fill="#68cdd1"/>
<rect x="1333" y="674.23" width="45" height="12.92" fill="#6acbc4"/>
<rect x="1333" y="661.91" width="45" height="12.92" fill="#6bc9b6"/>
<rect x="1333" y="649.59" width="45" height="12.92" fill="#69c7a7"/>
<rect x="1333" y="637.27" width="45" height="12.92" fill="#67c699"/>
<rect x="1333" y="624.95" width="45" height="12.92" fill="#66c48c"/>
<rect x="1333" y="612.63" width="45" height="12.92" fill="#65c37f"/>
<rect x="1333" y="600.31" width="45" height="12.92" fill="#64c173"/>
<rect x="1333" y="587.99" width="45" height="12.92" fill="#64c068"/>
<rect x="1333" y="575.67" width="45" height="12.92" fill="#63c061"/>
<rect x="1333" y="563.35" width="45" height="12.92" fill="#63c059"/>
<rect x="1333" y="551.03" width="45" height="12.92" fill="#62c052"/>
<rect x="1333" y="538.71" width="45" height="12.92" fill="#62c04b"/>
<rect x="1333" y="526.39" width="45" height="12.92" fill="#63c045"/>
<rect x="1333" y="514.07" width="45" height="12.92" fill="#64c13f"/>
<rect x="1333" y="501.75" width="45" height="12.92" fill="#65c139"/>
<rect x="1333" y="489.43" width="45" height="12.92" fill="#67c135"/>
<rect x="1333" y="477.11" width="45" height="12.92" fill="#6ac234"/>
<rect x="1333" y="464.79" width="45" height="12.92" fill="#6dc333"/>
<rect x="1333" y="452.47" width="45" height="12.92" fill="#6fc431"/>
<rect x="1333" y="440.15" width="45" height="12.92" fill="#72c530"/>
<rect x="1333" y="427.83" width="45" height="12.92" fill="#79c630"/>
<rect x="1333" y="415.51" width="45" height="12.92" fill="#80c82f"/>
<rect x="1333" y="403.19" width="45" height="12.92" fill="#87ca2f"/>
<rect x="1333" y="390.87" width="45" height="12.92" fill="#91cc2f"/>
<rect x="1333" y="378.55" width="45" height="12.92" fill="#9cd02f"/>
<rect x="1333" y="366.23" width="45" height="12.92" fill="#a7d330"/>
<rect x="1333" y="353.91" width="45" height="12.92" fill="#b3d730"/>
<rect x="1333" y="341.59" width="45" height="12.92" fill="#c7de30"/>
<rect x="1333" y="329.27" width="45" height="12.92" fill="#d8e331"/>
<rect x="1333" y="316.95" width="45" height="12.92" fill="#e6e531"/>
<rect x="1333" y="304.62" width="45" height="12.92" fill="#ecde2e"/>
<rect x="1333" y="292.30" width="45" height="12.92" fill="#f0c629"/>
<rect x="1333" y="279.98" width="45" height="12.92" fill="#f4af23"/>
<rect x="1333" y="267.66" width="45" height="12.92" fill="#f69e20"/>
<rect x="1333" y="255.34" width="45" height="12.92" fill="#f68e1e"/>
<rect x="1333" y="243.02" width="45" height="12.92" fill="#f47e20"/>
<rect x="1333" y="230.70" width="45" height="12.92" fill="#f36f21"/>
<rect x="1333" y="218.38" width="45" height="12.92" fill="#f16122"/>
<rect x="1333" y="206.06" width="45" height="12.92" fill="#f05423"/>
<rect x="1333" y="193.74" width="45" height="12.92" fill="#ef4924"/>
<rect x="1333" y="181.42" width="45" height="12.92" fill="#ef3f24"/>
<rect x="1333" y="169.10" width="45" height="12.92" fill="#ee3624"/>
<rect x="1333" y="156.78" width="45" height="12.92" fill="#ee2e24"/>
<rect x="1333" y="144.46" width="45" height="12.92" fill="#ed2724"/>
<rect x="1333" y="132.14" width="45" height="12.92" fill="#ec2424"/>
<rect x="1333" y="119.82" width="45" height="12.92" fill="#ec2124"/>
<rect x="1333" y="107.50" width="45" height="12.92" fill="#ec1f24"/>
<rect x="1333" y="107.5" width="45" height="788.5" fill="none" stroke="#333" stroke-width="2"/>
<path d="M1363 123.0H1378M1363 217.6H1378M1363 312.2H1378M1363 406.8H1378M1363 501.4H1378M1363 596.0H1378M1363 690.6H1378M1363 785.2H1378M1363 879.8H1378" stroke="#1a1a1a" stroke-width="2.2" fill="none"/>
<g font-family="'Liberation Serif','Noto Serif CJK SC',serif" font-size="57.5" fill="#1a1a1a">
<text transform="translate(1396.8,142.3) scale(.958,1)">1.8000</text>
<text transform="translate(1396.8,236.9) scale(.958,1)">1.6770</text>
<text transform="translate(1396.8,331.5) scale(.958,1)">1.5540</text>
<text transform="translate(1396.8,426.1) scale(.958,1)">1.4310</text>
<text transform="translate(1396.8,520.7) scale(.958,1)">1.3070</text>
<text transform="translate(1396.8,615.3) scale(.958,1)">1.1840</text>
<text transform="translate(1396.8,709.9) scale(.958,1)">1.0610</text>
<text transform="translate(1396.8,804.5) scale(.958,1)">0.9381</text>
<text transform="translate(1396.8,899.1) scale(.958,1)">0.8150</text>
</g>
</g>
</g>
<g transform="translate(1532.5,0)">
<g clip-path="url(#disc)" transform="translate(-0.5,-1)">
<use href="#qb" transform="translate(841.5,503) scale(1,-1)"/>
<use href="#qb" transform="translate(841.5,503) scale(-1,-1)"/>
<use href="#qb" transform="translate(841.5,503) scale(1,1)"/>
<use href="#qb" transform="translate(841.5,503) scale(-1,1)"/>
<g fill="none" stroke="#2f9a98" stroke-opacity=".45" stroke-width="1.3"><circle cx="841.5" cy="503" r="131"/><circle cx="841.5" cy="503" r="262"/><path d="M841.5 437.5 L841.5 108.5"/><path d="M874.2 446.3 L1038.8 161.4"/><path d="M898.2 470.2 L1183.1 305.7"/><path d="M907.0 503.0 L1236.0 503.0"/><path d="M898.2 535.8 L1183.1 700.2"/><path d="M874.2 559.7 L1038.8 844.6"/><path d="M841.5 568.5 L841.5 897.5"/><path d="M808.8 559.7 L644.2 844.6"/><path d="M784.8 535.8 L499.9 700.3"/><path d="M776.0 503.0 L447.0 503.0"/><path d="M784.8 470.2 L499.9 305.7"/><path d="M808.8 446.3 L644.2 161.4"/></g>
<g fill="none" stroke="#c0e4ea" stroke-opacity=".36" stroke-width="1.3" stroke-dasharray="2 3.6"><circle cx="841.5" cy="503" r="65.5"/><circle cx="841.5" cy="503" r="196.5"/><circle cx="841.5" cy="503" r="327.5"/><path d="M875.4 376.5 L943.6 121.9"/><path d="M934.1 410.4 L1120.5 224.0"/><path d="M968.0 469.1 L1222.6 400.9"/><path d="M968.0 536.9 L1222.6 605.1"/><path d="M934.1 595.6 L1120.5 782.0"/><path d="M875.4 629.5 L943.6 884.1"/><path d="M807.6 629.5 L739.4 884.1"/><path d="M748.9 595.6 L562.5 782.0"/><path d="M715.0 536.9 L460.4 605.1"/><path d="M715.0 469.1 L460.4 400.9"/><path d="M748.9 410.4 L562.5 224.0"/><path d="M807.6 376.5 L739.4 121.9"/></g>
</g>
<circle cx="841" cy="502" r="394.5" fill="none" stroke="#50505a" stroke-opacity=".8" stroke-width="1.8"/>
<path d="M525 502.6L657.5 425.9L798.8 484.4L808.7 518L638.2 579.1Z" fill="none" stroke="#0d0d0d" stroke-width="8.8" stroke-linejoin="round"/>
<path d="M876.5 485.7L1018.5 425.5L1150.4 502.6L1038.3 579.1L867.9 518.4Z" fill="none" stroke="#0d0d0d" stroke-width="8.8" stroke-linejoin="round"/>
<path d="M309.5 104.5V900.5" stroke="#1a1a1a" stroke-width="5.5" fill="none"/>
<path d="M309.5 107.0H323.5M309.5 238.8H323.5M309.5 370.7H323.5M309.5 502.5H323.5M309.5 634.3H323.5M309.5 766.2H323.5M309.5 898.0H323.5" stroke="#1a1a1a" stroke-width="5" fill="none"/>
<g font-family="'Liberation Serif','Noto Serif CJK SC',serif" font-size="57.5" fill="#1a1a1a">
<text x="267.8" y="126.3" text-anchor="end">90</text>
<text x="267.8" y="258.1" text-anchor="end">60</text>
<text x="267.8" y="390.0" text-anchor="end">30</text>
<text x="267.8" y="521.8" text-anchor="end">0</text>
<text x="267.8" y="653.6" text-anchor="end">30</text>
<text x="267.8" y="785.5" text-anchor="end">60</text>
<text x="267.8" y="915.3" text-anchor="end">90</text>
<text x="844.1" y="80.3" text-anchor="middle" letter-spacing="1.6">0</text>
<text x="607.5" y="141.2" text-anchor="middle" letter-spacing="1.6">330</text>
<text x="1065.4" y="141.2" text-anchor="middle" letter-spacing="1.6">30</text>
<text x="442.3" y="308.0" text-anchor="middle" letter-spacing="1.6">300</text>
<text x="1214.6" y="296.2" text-anchor="middle" letter-spacing="1.6">60</text>
<text x="382.4" y="527.8" text-anchor="middle" letter-spacing="1.6">270</text>
<text x="1277.5" y="519.5" text-anchor="middle" letter-spacing="1.6">90</text>
<text x="441.8" y="750.0" text-anchor="middle" letter-spacing="1.6">240</text>
<text x="1216.2" y="750.6" text-anchor="middle" letter-spacing="0.3">120</text>
<text x="606.2" y="905.2" text-anchor="middle" letter-spacing="1.6">210</text>
<text x="1065.7" y="905.2" text-anchor="middle" letter-spacing="0.3">150</text>
<text x="844.1" y="965.6" text-anchor="middle" letter-spacing="0.3">180</text>
</g>
<g font-family="'Liberation Serif','Noto Serif CJK SC',serif" font-size="58.6" fill="#1a1a1a">
<text transform="translate(159.5,502) rotate(-90)" text-anchor="middle">井斜角/(°)</text>
<text x="842.6" y="1057.5" text-anchor="middle">井周角/(°)</text>
<text x="1148.6" y="1163.8" text-anchor="end" font-size="58.9">(b) 沿最大水平地应力方向</text>
<text x="1137.6" y="70.5">临界坍塌密度<tspan font-size="59.5">/(g·cm</tspan><tspan font-size="32" dy="-22" dx="1.5">−3</tspan><tspan font-size="59.5" dy="22" dx="2.5">)</tspan></text>
</g>
<g transform="translate(-3.4,0)">
<rect x="1333" y="883.68" width="45" height="12.92" fill="#3651aa"/>
<rect x="1333" y="871.36" width="45" height="12.92" fill="#3753ac"/>
<rect x="1333" y="859.04" width="45" height="12.92" fill="#3855af"/>
<rect x="1333" y="846.72" width="45" height="12.92" fill="#3958b2"/>
<rect x="1333" y="834.40" width="45" height="12.92" fill="#3a5cb5"/>
<rect x="1333" y="822.08" width="45" height="12.92" fill="#3b60b8"/>
<rect x="1333" y="809.76" width="45" height="12.92" fill="#3d65bb"/>
<rect x="1333" y="797.44" width="45" height="12.92" fill="#3f6abe"/>
<rect x="1333" y="785.12" width="45" height="12.92" fill="#4273c3"/>
<rect x="1333" y="772.80" width="45" height="12.92" fill="#457fca"/>
<rect x="1333" y="760.48" width="45" height="12.92" fill="#488dd3"/>
<rect x="1333" y="748.16" width="45" height="12.92" fill="#4a99d9"/>
<rect x="1333" y="735.84" width="45" height="12.92" fill="#4ca5e0"/>
<rect x="1333" y="723.52" width="45" height="12.92" fill="#4fb3e6"/>
<rect x="1333" y="711.20" width="45" height="12.92" fill="#55c0e7"/>
<rect x="1333" y="698.88" width="45" height="12.92" fill="#60cadf"/>
<rect x="1333" y="686.55" width="45" height="12.92" fill="#68cdd1"/>
<rect x="1333" y="674.23" width="45" height="12.92" fill="#6acbc4"/>
<rect x="1333" y="661.91" width="45" height="12.92" fill="#6bc9b6"/>
<rect x="1333" y="649.59" width="45" height="12.92" fill="#69c7a7"/>
<rect x="1333" y="637.27" width="45" height="12.92" fill="#67c699"/>
<rect x="1333" y="624.95" width="45" height="12.92" fill="#66c48c"/>
<rect x="1333" y="612.63" width="45" height="12.92" fill="#65c37f"/>
<rect x="1333" y="600.31" width="45" height="12.92" fill="#64c173"/>
<rect x="1333" y="587.99" width="45" height="12.92" fill="#64c068"/>
<rect x="1333" y="575.67" width="45" height="12.92" fill="#63c061"/>
<rect x="1333" y="563.35" width="45" height="12.92" fill="#63c059"/>
<rect x="1333" y="551.03" width="45" height="12.92" fill="#62c052"/>
<rect x="1333" y="538.71" width="45" height="12.92" fill="#62c04b"/>
<rect x="1333" y="526.39" width="45" height="12.92" fill="#63c045"/>
<rect x="1333" y="514.07" width="45" height="12.92" fill="#64c13f"/>
<rect x="1333" y="501.75" width="45" height="12.92" fill="#65c139"/>
<rect x="1333" y="489.43" width="45" height="12.92" fill="#67c135"/>
<rect x="1333" y="477.11" width="45" height="12.92" fill="#6ac234"/>
<rect x="1333" y="464.79" width="45" height="12.92" fill="#6dc333"/>
<rect x="1333" y="452.47" width="45" height="12.92" fill="#6fc431"/>
<rect x="1333" y="440.15" width="45" height="12.92" fill="#72c530"/>
<rect x="1333" y="427.83" width="45" height="12.92" fill="#79c630"/>
<rect x="1333" y="415.51" width="45" height="12.92" fill="#80c82f"/>
<rect x="1333" y="403.19" width="45" height="12.92" fill="#87ca2f"/>
<rect x="1333" y="390.87" width="45" height="12.92" fill="#91cc2f"/>
<rect x="1333" y="378.55" width="45" height="12.92" fill="#9cd02f"/>
<rect x="1333" y="366.23" width="45" height="12.92" fill="#a7d330"/>
<rect x="1333" y="353.91" width="45" height="12.92" fill="#b3d730"/>
<rect x="1333" y="341.59" width="45" height="12.92" fill="#c7de30"/>
<rect x="1333" y="329.27" width="45" height="12.92" fill="#d8e331"/>
<rect x="1333" y="316.95" width="45" height="12.92" fill="#e6e531"/>
<rect x="1333" y="304.62" width="45" height="12.92" fill="#ecde2e"/>
<rect x="1333" y="292.30" width="45" height="12.92" fill="#f0c629"/>
<rect x="1333" y="279.98" width="45" height="12.92" fill="#f4af23"/>
<rect x="1333" y="267.66" width="45" height="12.92" fill="#f69e20"/>
<rect x="1333" y="255.34" width="45" height="12.92" fill="#f68e1e"/>
<rect x="1333" y="243.02" width="45" height="12.92" fill="#f47e20"/>
<rect x="1333" y="230.70" width="45" height="12.92" fill="#f36f21"/>
<rect x="1333" y="218.38" width="45" height="12.92" fill="#f16122"/>
<rect x="1333" y="206.06" width="45" height="12.92" fill="#f05423"/>
<rect x="1333" y="193.74" width="45" height="12.92" fill="#ef4924"/>
<rect x="1333" y="181.42" width="45" height="12.92" fill="#ef3f24"/>
<rect x="1333" y="169.10" width="45" height="12.92" fill="#ee3624"/>
<rect x="1333" y="156.78" width="45" height="12.92" fill="#ee2e24"/>
<rect x="1333" y="144.46" width="45" height="12.92" fill="#ed2724"/>
<rect x="1333" y="132.14" width="45" height="12.92" fill="#ec2424"/>
<rect x="1333" y="119.82" width="45" height="12.92" fill="#ec2124"/>
<rect x="1333" y="107.50" width="45" height="12.92" fill="#ec1f24"/>
<rect x="1333" y="107.5" width="45" height="788.5" fill="none" stroke="#333" stroke-width="2"/>
<path d="M1363 123.0H1378M1363 217.6H1378M1363 312.2H1378M1363 406.8H1378M1363 501.4H1378M1363 596.0H1378M1363 690.6H1378M1363 785.2H1378M1363 879.8H1378" stroke="#1a1a1a" stroke-width="2.2" fill="none"/>
<g font-family="'Liberation Serif','Noto Serif CJK SC',serif" font-size="57.5" fill="#1a1a1a">
<text transform="translate(1396.8,142.3) scale(.958,1)">1.8000</text>
<text transform="translate(1396.8,236.9) scale(.958,1)">1.6770</text>
<text transform="translate(1396.8,331.5) scale(.958,1)">1.5540</text>
<text transform="translate(1396.8,426.1) scale(.958,1)">1.4310</text>
<text transform="translate(1396.8,520.7) scale(.958,1)">1.3070</text>
<text transform="translate(1396.8,615.3) scale(.958,1)">1.1840</text>
<text transform="translate(1396.8,709.9) scale(.958,1)">1.0610</text>
<text transform="translate(1396.8,804.5) scale(.958,1)">0.9381</text>
<text transform="translate(1396.8,899.1) scale(.958,1)">0.8150</text>
</g>
</g>
</g>
</svg>
</body></html>
